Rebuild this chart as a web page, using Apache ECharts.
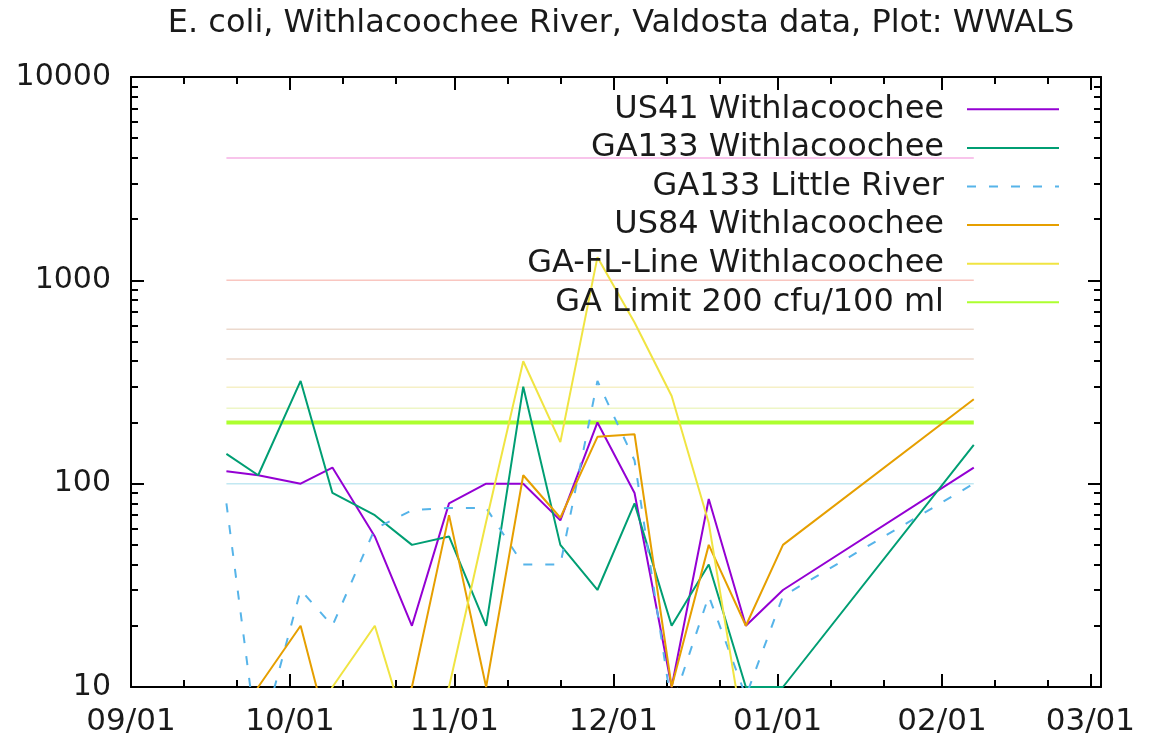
<!DOCTYPE html>
<html><head><meta charset="utf-8">
<script src="https://cdn.jsdelivr.net/npm/echarts@6/dist/echarts.min.js"></script>
<style>html,body{margin:0;padding:0;background:#fff}#c{width:1153px;height:743px}</style>
</head><body><div id="c"></div>
<script>
// ---- data ----
const sampleDates = ['2018-09-19','2018-09-25','2018-10-03','2018-10-09','2018-10-17','2018-10-24','2018-10-31','2018-11-07','2018-11-14','2018-11-21','2018-11-28','2018-12-05','2018-12-12','2018-12-19','2018-12-26','2019-01-02','2019-02-07'];
const us41Values   = [115,110,100,120,55,20,80,100,100,66,200,90,10,84,20,30,120];
const ga133WValues = [140,110,320,90,70,50,55,20,300,50,30,80,20,40,10,10,155];
const ga133LRValues= [80,5,30,20,60,74,76,76,40,40,320,130,8,28,9,28,100];
const us84Values   = [5,10,20,5,5,10,70,10,110,68,170,175,10,50,20,50,260];
const gaflValues   = [5,5,5,10,20,5,10,65,400,160,1300,620,270,64,5,5,5];
const limitValue = 200;
const thresholdValues = [4000,1000,575,410,298,235,100];
const seriesNames = ['US41 Withlacoochee','GA133 Withlacoochee','GA133 Little River','US84 Withlacoochee','GA-FL-Line Withlacoochee','GA Limit 200 cfu/100 ml'];
const monthTickDates = ['2018-09-01','2018-10-01','2018-11-01','2018-12-01','2019-01-01','2019-02-01','2019-03-01'];
const minorTickDates = ['2018-09-11','2018-09-21','2018-10-11','2018-10-21','2018-11-11','2018-11-21','2018-12-11','2018-12-21','2019-01-11','2019-01-21','2019-02-11','2019-02-21'];
const xMinDate = '2018-09-01';
const xMaxDate = '2019-03-03';

// ---- build ----
const t = s => new Date(s + 'T00:00:00').getTime();
const pad = n => (n < 10 ? '0' : '') + n;
const mk = vals => sampleDates.map((d, i) => [t(d), vals[i]]);
const firstT = t(sampleDates[0]), lastT = t(sampleDates[sampleDates.length - 1]);
const thresholdColors = ['#f6b0e4','#f9c6c0','#ecd9cd','#ecd9cd','#f6f0c6','#eef6c6','#c2e8f2'];
const FONT = 'DejaVu Sans';
const xMin = t(xMinDate), xMax = t(xMaxDate);
const majorX = monthTickDates.map(t), minorX = minorTickDates.map(t);

function xAxisDef(pos, ticks, len, labels, line) {
  return {
    type: 'value', position: pos, min: xMin, max: xMax, gridIndex: 0, scale: true,
    axisLine: {show: line, onZero: false, lineStyle: {color: '#000', width: 2}},
    axisTick: {show: true, inside: true, length: len, customValues: ticks, lineStyle: {color: '#000', width: 2}},
    axisLabel: labels ? {show: true, customValues: ticks, margin: 19, fontFamily: FONT, fontSize: 31, color: '#1a1a1a',
      formatter: v => { const d = new Date(v); return pad(d.getMonth() + 1) + '/' + pad(d.getDate()); }} : {show: false},
    splitLine: {show: false}
  };
}
function yAxisDef(pos, labels) {
  return {
    type: 'log', logBase: 10, min: 10, max: 10000, position: pos,
    axisLine: {show: true, onZero: false, lineStyle: {color: '#000', width: 2}},
    axisTick: {show: true, inside: true, length: 13, lineStyle: {color: '#000', width: 2}},
    minorTick: {show: true, splitNumber: 9, length: 7, lineStyle: {color: '#000', width: 2}},
    axisLabel: labels ? {show: true, margin: 20, fontFamily: FONT, fontSize: 30, color: '#1a1a1a',
      formatter: v => String(Math.round(v))} : {show: false},
    splitLine: {show: false}
  };
}

const series = [];
thresholdValues.forEach((v, i) => {
  series.push({type: 'line', name: 'thr' + v, data: [[firstT, v], [lastT, v]], symbol: 'none', silent: true,
    lineStyle: {color: thresholdColors[i], width: 1.5}, z: 1});
});
const dataSets = [us41Values, ga133WValues, ga133LRValues, us84Values, gaflValues];
const colors = ['#9400d3','#009e73','#56b4e9','#e69f00','#f0e442'];
dataSets.forEach((vals, i) => {
  series.push({type: 'line', name: seriesNames[i], data: mk(vals), symbol: 'none', z: 3,
    color: colors[i],
    lineStyle: {color: colors[i], width: 2, type: i === 2 ? [9, 13] : 'solid'}});
});
series.push({type: 'line', name: seriesNames[5], data: [[firstT, limitValue], [lastT, limitValue]], symbol: 'none', z: 2,
  color: '#adff2f', lineStyle: {color: '#adff2f', width: 4}});

const chart = echarts.init(document.getElementById('c'), null, {renderer: 'canvas'});
chart.setOption({
  animation: false,
  backgroundColor: '#fff',
  title: {text: 'E. coli, Withlacoochee River, Valdosta data, Plot: WWALS', left: 616, textAlign: 'center', top: 3,
    textStyle: {fontFamily: FONT, fontSize: 32, fontWeight: 'normal', color: '#1a1a1a'}},
  grid: {left: 131, right: 52, top: 77, bottom: 56, containLabel: false},
  xAxis: [
    xAxisDef('bottom', majorX, 13, true, true),
    xAxisDef('bottom', minorX, 7, false, false),
    xAxisDef('top', majorX, 13, false, true),
    xAxisDef('top', minorX, 7, false, false)
  ],
  yAxis: [yAxisDef('left', true), yAxisDef('right', false)],
  legend: {
    data: seriesNames, orient: 'vertical', align: 'right', right: 93, top: 90, padding: 0,
    itemWidth: 92, itemHeight: 14, itemGap: 0,
    itemStyle: {opacity: 0},
    textStyle: {fontFamily: FONT, fontSize: 32, color: '#1a1a1a', lineHeight: 38.6, padding: [0, 18, 0, 0]}
  },
  series: series
});
</script></body></html>
